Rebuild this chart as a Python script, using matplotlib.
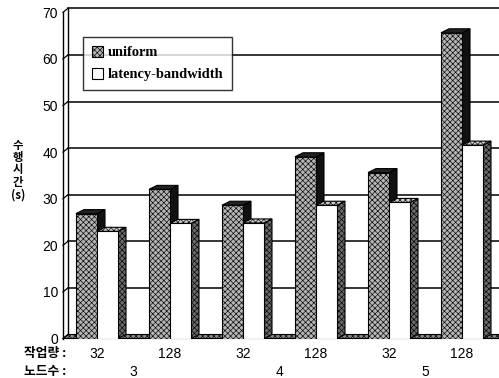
import matplotlib
matplotlib.use("Agg")
import matplotlib.pyplot as plt
from matplotlib.patches import Polygon, Patch
from matplotlib.lines import Line2D

# --- data -------------------------------------------------------------
workloads = ["32", "128", "32", "128", "32", "128"]
node_counts = ["3", "4", "5"]
uniform = [26.8, 32.0, 28.6, 39.0, 35.6, 65.6]
latency_bandwidth = [23.0, 24.7, 24.8, 28.6, 29.2, 41.5]
series_names = ["uniform", "latency-bandwidth"]
y_ticks = [0, 10, 20, 30, 40, 50, 60, 70]

# --- figure -----------------------------------------------------------
W, H = 499, 378
fig = plt.figure(figsize=(W / 100, H / 100), dpi=100)
fig.patch.set_facecolor("white")

px_per_unit_y = 4.66
y0_px = 338.5
ytop = 72.0
ax_left_px = 63
xmin = (ax_left_px - 97) / 73.0
xmax = (W - 97) / 73.0
ax = fig.add_axes([ax_left_px / W, (H - y0_px) / H,
                   (W - ax_left_px) / W, (ytop * px_per_unit_y) / H])
ax.set_xlim(xmin, xmax)
ax.set_ylim(0, ytop)
for s in ax.spines.values():
    s.set_visible(False)

plt.rcParams["hatch.linewidth"] = 0.45

bar_w = 21 / 73.0        # bar width in x units
DX = 8 / 73.0            # bar depth offset (x)
DY = 4 / px_per_unit_y   # depth offset (y)
WX = 5 / 73.0            # wall depth offset (x)

positions = list(range(len(workloads)))

# back wall edge, floor and gridlines
ax.add_line(Line2D([xmin, xmin], [0, 70], color="black", lw=1.0, zorder=2, clip_on=False))
ax.add_line(Line2D([xmin + WX, xmin + WX], [DY, 70 + DY], color="black", lw=1.0, zorder=1, clip_on=False))
for v in y_ticks:
    ax.add_line(Line2D([xmin + WX, xmax], [v + DY, v + DY], color="black", lw=1.1, zorder=1, clip_on=False))
    ax.add_line(Line2D([xmin, xmin + WX], [v, v + DY], color="black", lw=0.9, zorder=2, clip_on=False))
ax.add_patch(Polygon([(xmin, 0), (xmin + WX, DY), (xmax, DY), (xmax, 0)],
                     closed=True, facecolor="#8a8a8a", edgecolor="black",
                     hatch="xxxxxx", lw=0.8, zorder=1.5, clip_on=False))

# front faces of the columns
u_front = ax.bar([p - bar_w for p in positions], uniform, width=bar_w, align="edge",
                 facecolor="#b5b5b5", edgecolor="black", hatch="xxxxxx", lw=0.8, zorder=3)
l_front = ax.bar(positions, latency_bandwidth, width=bar_w, align="edge",
                 facecolor="white", edgecolor="black", lw=0.8, zorder=5)

# side and top faces
def add_depth(rect, side_color, side_hatch, top_color, top_hatch, z):
    x0 = rect.get_x()
    x1 = x0 + rect.get_width()
    h = rect.get_height()
    side = Polygon([(x1, 0), (x1 + DX, DY), (x1 + DX, h + DY), (x1, h)], closed=True,
                   facecolor=side_color, edgecolor="black", hatch=side_hatch, lw=0.8, zorder=z)
    top = Polygon([(x0, h), (x0 + DX, h + DY), (x1 + DX, h + DY), (x1, h)], closed=True,
                  facecolor=top_color, edgecolor="black", hatch=top_hatch, lw=0.8, zorder=z)
    ax.add_patch(side)
    ax.add_patch(top)

for r in u_front:
    add_depth(r, "#111111", None, "#222222", None, 2.9)
for r in l_front:
    add_depth(r, "#6a6a6a", "xxxxxx", "#d0d0d0", "xxxxxx", 4.9)

# axes text
tick_font = dict(family="Liberation Sans", size=10)
ax.set_yticks(y_ticks)
ax.set_yticklabels([str(v) for v in y_ticks], **tick_font)
ax.tick_params(axis="y", length=0, pad=3.5)
ax.set_xticks(positions)
ax.set_xticklabels(workloads, **tick_font)
ax.tick_params(axis="x", length=0, pad=6)

for i, n in enumerate(node_counts):
    xc = (positions[2 * i] + positions[2 * i + 1]) / 2.0
    ax.annotate(n, xy=(xc, 0), xycoords="data", xytext=(0, -24), textcoords="offset points",
                ha="center", va="center", **tick_font)

kfont = dict(family=["Noto Sans CJK KR", "DejaVu Sans"], size=9.2, weight="bold")
fig.text(24 / W, 1 - 354 / H, "작업량 :", ha="left", va="center", **kfont)
fig.text(24 / W, 1 - 372 / H, "노드수 :", ha="left", va="center", **kfont)
vfont = dict(kfont, size=8.2)
for ch, yc in zip(["수", "행", "시", "간", "(s)"], [145, 157.5, 170, 182.5, 195]):
    fig.text(18 / W, 1 - yc / H, ch, ha="center", va="center", **vfont)

# legend
handles = [Patch(facecolor="#b5b5b5", edgecolor="black", hatch="xxxxxx", lw=0.8),
           Patch(facecolor="white", edgecolor="black", lw=0.8)]
leg = ax.legend(handles, series_names, loc="upper left",
                bbox_to_anchor=(83 / W, 1 - 37 / H), bbox_transform=fig.transFigure,
                fancybox=False, frameon=True, edgecolor="black", borderaxespad=0,
                handlelength=0.8, handleheight=0.8, handletextpad=0.3,
                labelspacing=0.6, borderpad=0.6,
                prop=dict(family="Liberation Serif", weight="bold", size=10.4))
leg.get_frame().set_linewidth(1.0)
leg.set_zorder(10)

fig.savefig("out.png", dpi=100)
